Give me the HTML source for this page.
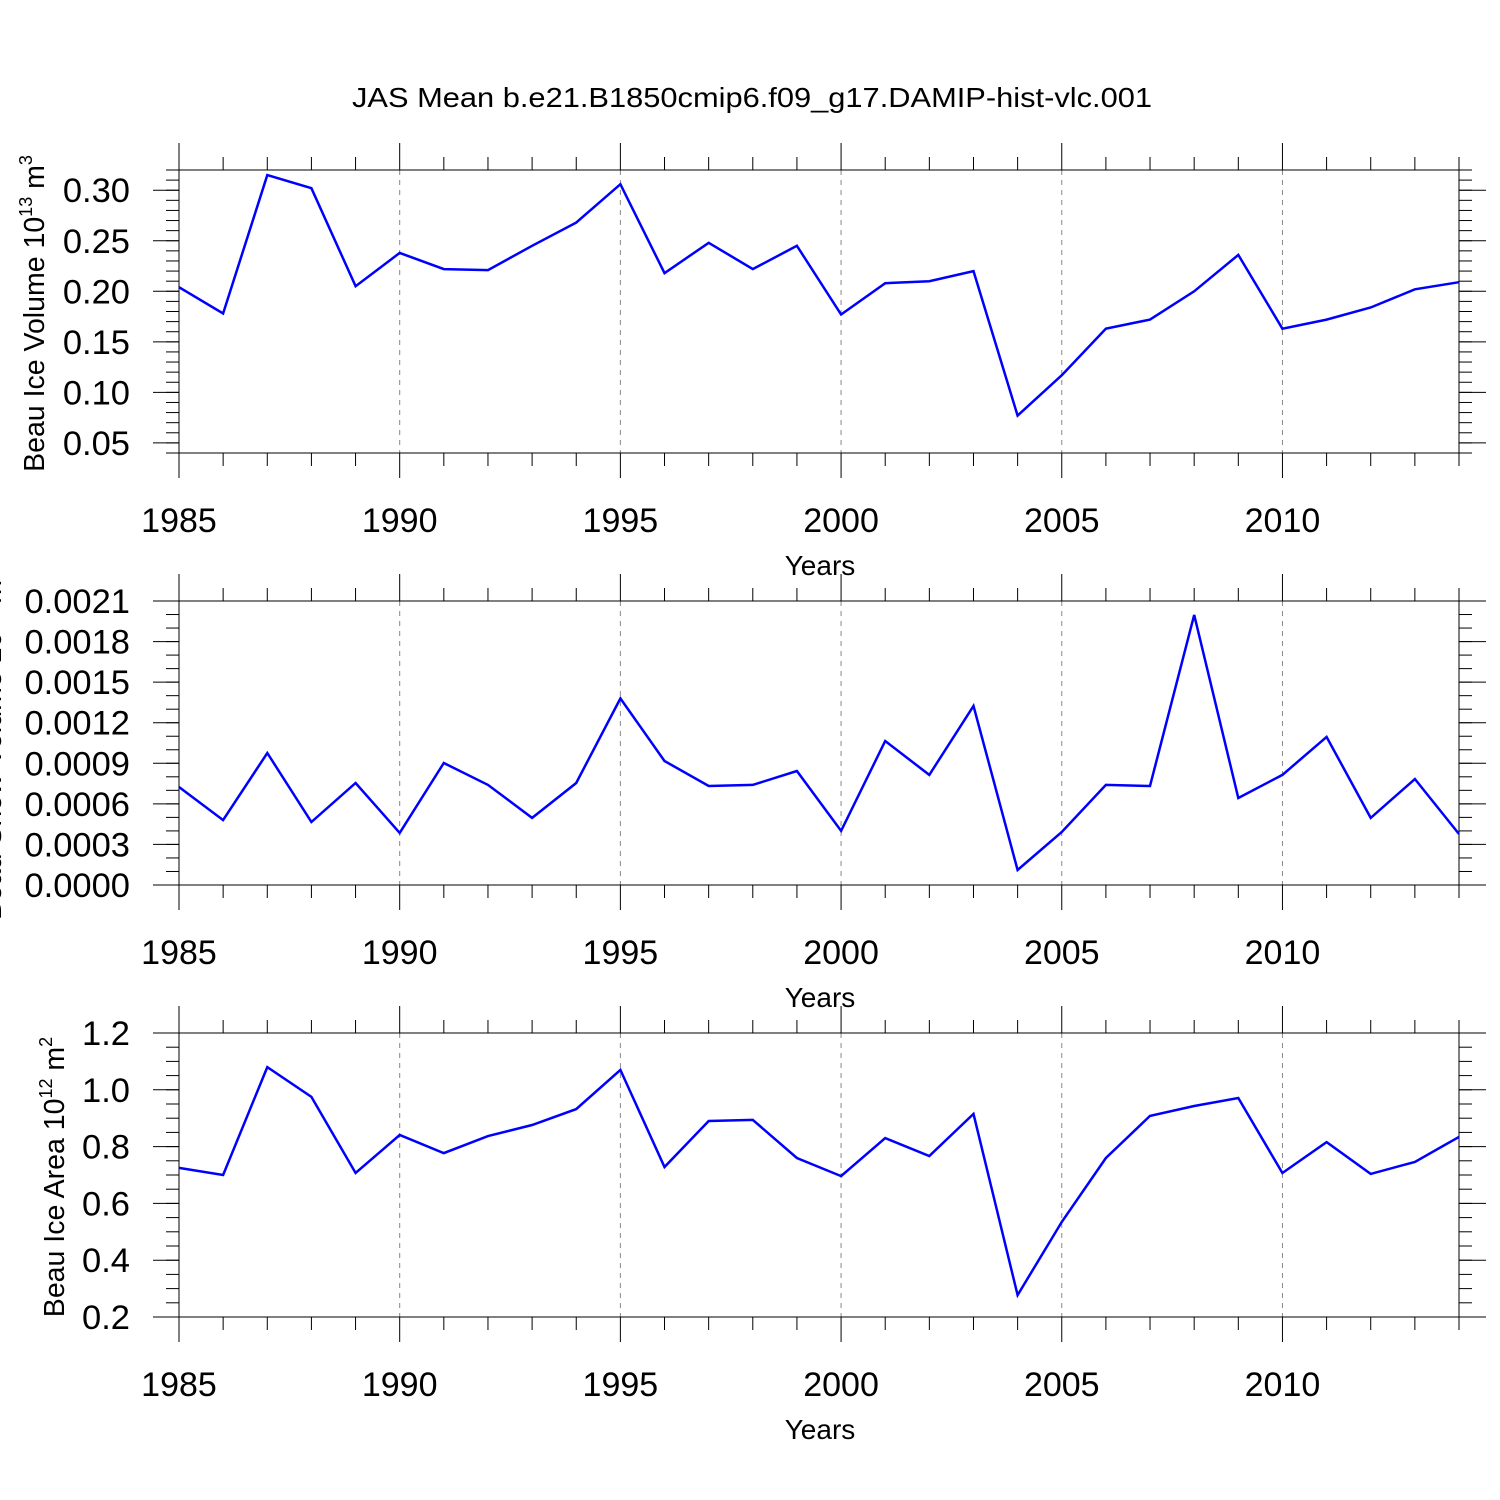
<!DOCTYPE html>
<html><head><meta charset="utf-8"><style>
html,body{margin:0;padding:0;background:#fff;}
svg{display:block;font-family:"Liberation Sans",sans-serif;}
</style></head><body>
<svg id="chart" width="1500" height="1500" viewBox="0 0 1500 1500" xmlns="http://www.w3.org/2000/svg">
<text x="752" y="107" font-size="28" text-anchor="middle" textLength="800" lengthAdjust="spacingAndGlyphs">JAS Mean b.e21.B1850cmip6.f09_g17.DAMIP-hist-vlc.001</text>
</svg>
<script>
const years = [1985,1986,1987,1988,1989,1990,1991,1992,1993,1994,1995,1996,1997,1998,1999,2000,2001,2002,2003,2004,2005,2006,2007,2008,2009,2010,2011,2012,2013,2014];
const iceVolume = [0.204,0.178,0.315,0.302,0.205,0.238,0.222,0.221,0.245,0.268,0.306,0.218,0.248,0.222,0.245,0.177,0.208,0.210,0.220,0.077,0.117,0.163,0.172,0.200,0.236,0.163,0.172,0.184,0.202,0.209];
const snowVolume = [0.000725,0.00048,0.000976,0.000466,0.000754,0.000385,0.000902,0.00074,0.000496,0.000754,0.00138,0.000917,0.000732,0.00074,0.000843,0.0004,0.001065,0.000814,0.001324,0.000111,0.000392,0.00074,0.000732,0.001997,0.000643,0.000814,0.001095,0.000496,0.000784,0.000377];
const iceArea = [0.725,0.700,1.080,0.975,0.707,0.841,0.777,0.837,0.876,0.932,1.070,0.728,0.890,0.894,0.760,0.696,0.830,0.767,0.915,0.277,0.535,0.760,0.908,0.943,0.971,0.707,0.816,0.704,0.746,0.834];
const xTickLabels = ["1985","1990","1995","2000","2005","2010"];
const volTicks = ["0.05","0.10","0.15","0.20","0.25","0.30"];
const snowTicks = ["0.0000","0.0003","0.0006","0.0009","0.0012","0.0015","0.0018","0.0021"];
const areaTicks = ["0.2","0.4","0.6","0.8","1.0","1.2"];

const NS = "http://www.w3.org/2000/svg";
const svg = document.getElementById('chart');
const X0 = 179, X1 = 1459, XMIN = 1985, XMAX = 2014;
function xs(v){ return X0 + (v - XMIN) / (XMAX - XMIN) * (X1 - X0); }
function mk(tag, attrs, parent){
  const e = document.createElementNS(NS, tag);
  for (const k in attrs) e.setAttribute(k, attrs[k]);
  (parent || svg).appendChild(e);
  return e;
}

const panels = [
  {name:'ice-volume', top:170, bot:453, ymin:0.04, ymax:0.32, ticks:volTicks, minor:0.01, data:iceVolume,
   label:'Beau Ice Volume 10', sup:'13', unit:' m', usup:'3', lx:44},
  {name:'snow-volume', top:601, bot:885, ymin:0, ymax:0.0021, ticks:snowTicks, minor:0.0001, data:snowVolume,
   label:'Beau Snow Volume 10', sup:'13', unit:' m', usup:'3', lx:1},
  {name:'ice-area', top:1033, bot:1317, ymin:0.2, ymax:1.2, ticks:areaTicks, minor:0.05, data:iceArea,
   label:'Beau Ice Area 10', sup:'12', unit:' m', usup:'2', lx:64}
];

panels.forEach(p => {
  const g = mk('g', {});
  
  
  const ys = v => p.bot - (v - p.ymin) / (p.ymax - p.ymin) * (p.bot - p.top);
  xTickLabels.forEach(t => {
    const x = xs(+t);
    if (+t === XMIN) return;
    const l = mk('line', {x1:x, x2:x, y1:p.top, y2:p.bot, stroke:'#888', 'stroke-width':1, 'stroke-dasharray':'5,5'}, g);
    
    
  });
  years.forEach(yr => {
    const x = xs(yr);
    const major = (yr % 5 === 0);
    const len = major ? 27 : 13;
    mk('line', {x1:x, x2:x, y1:p.top - len, y2:p.top, stroke:'#000', 'stroke-width':1}, g);
    mk('line', {x1:x, x2:x, y1:p.bot, y2:p.bot + (major ? 25 : 13), stroke:'#000', 'stroke-width':1}, g);
  });
  const nMin = Math.round((p.ymax - p.ymin) / p.minor);
  for (let i = 0; i <= nMin; i++) {
    const y = ys(p.ymin + i * p.minor);
    mk('line', {x1:X0 - 13, x2:X0, y1:y, y2:y, stroke:'#000', 'stroke-width':1}, g);
    mk('line', {x1:X1, x2:X1 + 13, y1:y, y2:y, stroke:'#000', 'stroke-width':1}, g);
  }
  p.ticks.forEach(t => {
    const y = ys(+t);
    mk('line', {x1:X0 - 26, x2:X0, y1:y, y2:y, stroke:'#000', 'stroke-width':1}, g);
    mk('line', {x1:X1, x2:X1 + 27, y1:y, y2:y, stroke:'#000', 'stroke-width':1}, g);
    const tx = mk('text', {x:X0 - 49, y:y + 12, 'font-size':34.5, 'text-anchor':'end'}, g);
    tx.textContent = t;
    
    
  });
  const b = mk('rect', {x:X0, y:p.top, width:X1 - X0, height:p.bot - p.top, fill:'none', stroke:'#000', 'stroke-width':1}, g);
  
  
  xTickLabels.forEach(t => {
    const tx = mk('text', {x:xs(+t), y:p.bot + 79, 'font-size':34, 'text-anchor':'middle'}, g);
    tx.textContent = t;
    
    
  });
  const xt = mk('text', {x:820, y:p.bot + 122, 'font-size':28, 'text-anchor':'middle'}, g);
  xt.textContent = 'Years';
  
  
  const cy = (p.top + p.bot) / 2 + 2;
  const yt = mk('text', {transform:'translate(' + p.lx + ',' + cy + ') rotate(-90)', 'font-size':28.5, 'text-anchor':'middle'}, g);
  
  
  const s1 = mk('tspan', {}, yt); s1.textContent = p.label;
  const s2 = mk('tspan', {dy:-12, 'font-size':18}, yt); s2.textContent = p.sup;
  const s3 = mk('tspan', {dy:12}, yt); s3.textContent = p.unit;
  const s4 = mk('tspan', {dy:-12, 'font-size':18}, yt); s4.textContent = p.usup;
  const pts = years.map((yr, i) => xs(yr).toFixed(1) + ',' + ys(p.data[i]).toFixed(1)).join(' ');
  const pl = mk('polyline', {points:pts, fill:'none', stroke:'#0000ff', 'stroke-width':2.5, 'stroke-linejoin':'miter'}, g);
  
  
});
</script>
</body></html>
